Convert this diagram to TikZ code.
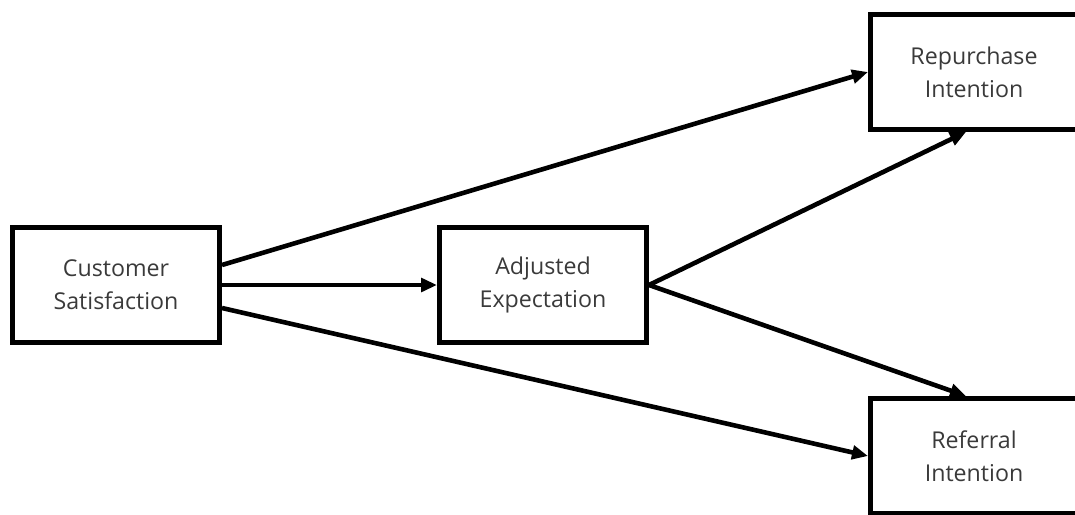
\documentclass[tikz,border=0pt]{standalone}
\usepackage{fontspec}
\setmainfont{Open Sans}
\usetikzlibrary{arrows.meta, positioning}
\definecolor{txtgray}{HTML}{3A3A3A}

\begin{document}
\begin{tikzpicture}[
    var/.style={
      draw, line width=1.25mm, align=center, text=txtgray,
      minimum width=5.175cm, minimum height=2.875cm,
      font=\fontsize{16.5}{23.5}\selectfont, inner sep=2pt
    },
    fl/.style={-{Triangle[length=4mm, width=3.4mm]}, line width=1.15mm}
  ]
    \useasboundingbox (0,0) rectangle (26.875,-12.875);

    % --- Konstrukte ---
    \node[var] (cs) at ( 2.900, -7.125) {Customer\\Satisfaction};
    \node[var] (ae) at (13.575, -7.125) {Adjusted\\Expectation};
    \node[var] (rp) at (24.350, -1.800) {Repurchase\\Intention};
    \node[var] (rf) at (24.350,-11.400) {Referral\\Intention};

    % --- Pfade ---
    \draw[fl] ([yshift=5mm]cs.east)     -- (rp.west);
    \draw[fl] (cs.east)                 -- (ae.west);
    \draw[fl] ([yshift=-5.75mm]cs.east) -- (rf.west);
    \draw[fl] (ae.east) -- ([xshift=-2mm]rp.south);
    \draw[fl] (ae.east) -- ([xshift=-2mm]rf.north);
  \end{tikzpicture}
\end{document}
